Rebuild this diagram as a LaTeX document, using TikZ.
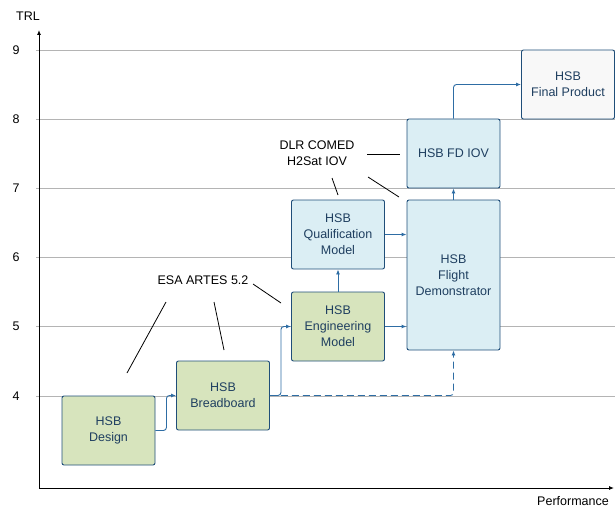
\documentclass[tikz,border=0pt]{standalone}
\usepackage{fontspec}
\setmainfont{Liberation Sans}
\usetikzlibrary{arrows.meta}
\definecolor{boxline}{HTML}{1F4E79}
\definecolor{boxtext}{HTML}{1F3F60}
\definecolor{greenfill}{HTML}{D7E4BD}
\definecolor{bluefill}{HTML}{DBEEF4}
\definecolor{whitefill}{HTML}{F8F8F8}
\definecolor{linkcol}{HTML}{2E6DA4}
\definecolor{gridcol}{HTML}{B4B4B4}
\begin{document}
\begin{tikzpicture}[x=1pt,y=-1pt,
  lbl/.style={font=\fontsize{12.5}{15}\selectfont, text=black, inner sep=0pt, align=center},
  box/.style={draw=boxline, line width=0.9pt, rounded corners=2pt, align=center,
              text=boxtext, font=\fontsize{12.5}{16}\selectfont, inner sep=0pt,
              minimum width=93pt, minimum height=69pt},
  greenbox/.style={box, fill=greenfill},
  bluebox/.style={box, fill=bluefill},
  whitebox/.style={box, fill=whitefill},
  link/.style={draw=linkcol, line width=0.9pt, rounded corners=3pt,
               -{Latex[length=5pt,width=4pt]}},
  gridline/.style={draw=gridcol, line width=0.8pt},
  pointer/.style={draw=black, line width=0.8pt}]
\useasboundingbox (0,0) rectangle (615,508);

% TRL grid lines, ticks and level labels
\foreach \lv/\yy in {9/50,8/119,7/188,6/257,5/326,4/396}{
  \draw[gridline] (36,\yy) -- (615,\yy);
  \node[lbl] (trl\lv) at (16,\yy) {\lv};
}

% axes
\coordinate (origin) at (39,488);
\coordinate (ytop) at (39,30);
\coordinate (xend) at (614,488);
\draw[line width=0.9pt, -{Latex[length=5pt,width=4pt]}] (origin) -- (ytop);
\draw[line width=0.9pt, -{Latex[length=5pt,width=4pt]}] (origin) -- (xend);
\node[lbl] (ylabel) at (28,16) {TRL};
\node[lbl] (xlabel) at (573,501) {Performance};

% development stages
\node[greenbox] (design) at (108.5,430.5) {HSB\\Design};
\node[greenbox] (bb) at (223,395.5) {HSB\\Breadboard};
\node[greenbox] (em) at (338,326.5) {HSB\\Engineering\\Model};
\node[bluebox] (qm) at (338,234.5) {HSB\\Qualification\\Model};
\node[bluebox, minimum height=150pt] (fd) at (453.5,275) {HSB\\Flight\\Demonstrator};
\node[bluebox] (iov) at (453.5,153.5) {HSB FD IOV};
\node[whitebox] (fp) at (568,84.5) {HSB\\Final Product};

% stage transitions
\draw[link] (design.east) -- ++(11,0) |- (bb.west);
\draw[link] (bb.east) -- ++(11,0) |- (em.west);
\draw[link, dash pattern=on 7pt off 4pt] (bb.east) -| (fd.south);
\draw[link] (em.north) -- (qm.south);
\draw[link] (em.east) -- (em.east -| fd.west);
\draw[link] (qm.east) -- (qm.east -| fd.west);
\draw[link] (fd.north) -- (iov.south);
\draw[link] (iov.north) |- (fp.west);

% programme annotations
\node[lbl] (esa) at (203,280) {ESA ARTES 5.2};
\coordinate (esa1) at (127,373);
\coordinate (esa2) at (224,350);
\coordinate (esa3) at (281,303);
\draw[pointer] (166,302) -- (esa1);
\draw[pointer] (214,302) -- (esa2);
\draw[pointer] (253,284) -- (esa3);

\node[lbl, font=\fontsize{12.5}{16}\selectfont] (dlr) at (317,153) {DLR COMED\\H2Sat IOV};
\coordinate (dlr1) at (400,154);
\coordinate (dlr2) at (338,195);
\coordinate (dlr3) at (399,197);
\draw[pointer] (367,154) -- (dlr1);
\draw[pointer] (332,178) -- (dlr2);
\draw[pointer] (368,177) -- (dlr3);
\end{tikzpicture}
\end{document}
